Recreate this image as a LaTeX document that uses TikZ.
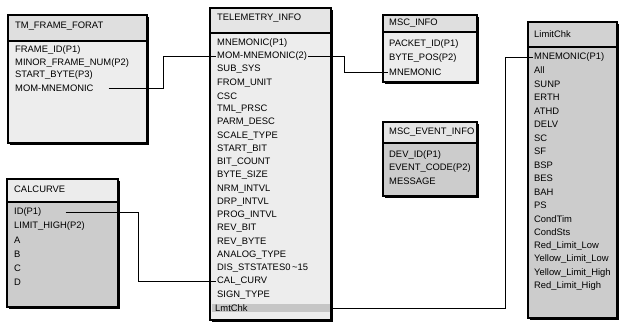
\documentclass[tikz,border=0pt]{standalone}
\usepackage{fontspec}
\setmainfont{Liberation Sans}
\usetikzlibrary{calc, positioning}

\begin{document}
\begin{tikzpicture}[x=1pt, y=-1pt,
  frame/.style={draw, line width=1.2pt},
  shade/.style={fill=black},
  hdr/.style={fill=gray!25},
  body/.style={fill=gray!14},
  darkbody/.style={fill=gray!40},
  title/.style={anchor=west, inner sep=1pt, font=\fontsize{9.4}{10}\selectfont},
  row/.style={anchor=west, inner sep=1pt, font=\fontsize{9.4}{10}\selectfont},
  link/.style={draw, line width=0.9pt}]
  \useasboundingbox (0,0) rectangle (622,327);
  % TM_FRAME_FORAT table
  \fill[shade] (10,17) rectangle (149,145);
  \fill[hdr] (8,15) rectangle (147,41);
  \fill[body] (8,41) rectangle (147,143);
  \draw[frame] (8,15) rectangle (147,143) (8,41) -- (147,41);
  \node[title] (tm) at (14,26) {TM\_FRAME\_FORAT};
  \foreach \lbl [count=\i] in {FRAME\_ID(P1), MINOR\_FRAME\_NUM(P2), START\_BYTE(P3), MOM-MNEMONIC}
    \node[row] (tm-\i) at (14,{50+12.7*(\i-1)}) {\lbl};
  % CALCURVE table
  \fill[shade] (9,181) rectangle (120,309);
  \fill[gray!15] (7,179) rectangle (118,202);
  \fill[darkbody] (7,202) rectangle (118,307);
  \draw[frame] (7,179) rectangle (118,307) (7,202) -- (118,202);
  \node[title] (cal) at (13,189) {CALCURVE};
  \foreach \lbl [count=\i] in {ID(P1), LIMIT\_HIGH(P2), A, B, C, D}
    \node[row] (cal-\i) at (13,{212+14*(\i-1)}) {\lbl};
  % TELEMETRY_INFO table
  \fill[shade] (212,10) rectangle (333,322);
  \fill[gray!20] (210,8) rectangle (331,33);
  \fill[body] (210,33) rectangle (331,320);
  \draw[frame] (210,8) rectangle (331,320) (210,33) -- (331,33);
  \node[title] (tel) at (216,18) {TELEMETRY\_INFO};
  \foreach \lbl [count=\i] in {MNEMONIC(P1), MOM-MNEMONIC(2), SUB\_SYS, FROM\_UNIT, CSC,
      TML\_PRSC, PARM\_DESC, SCALE\_TYPE, START\_BIT, BIT\_COUNT, BYTE\_SIZE, NRM\_INTVL,
      DRP\_INTVL, PROG\_INTVL, REV\_BIT, REV\_BYTE, ANALOG\_TYPE,
      DIS\_STSTATES0\,\textasciitilde15, CAL\_CURV, SIGN\_TYPE}
    \node[row] (tel-\i) at (216,{43+13.25*(\i-1)}) {\lbl};
  \node[row, fill=gray!45, text width=112pt, inner xsep=3pt] (tel-21) at (212,308) {LmtChk};
  % MSC_INFO table
  \fill[shade] (385,17) rectangle (479,84);
  \fill[hdr] (383,15) rectangle (477,32);
  \fill[body] (383,32) rectangle (477,82);
  \draw[frame] (383,15) rectangle (477,82) (383,32) -- (477,32);
  \node[title] (msc) at (388,23) {MSC\_INFO};
  \foreach \lbl [count=\i] in {PACKET\_ID(P1), BYTE\_POS(P2), MNEMONIC}
    \node[row] (msc-\i) at (388,{44+14*(\i-1)}) {\lbl};
  % MSC_EVENT_INFO table
  \fill[shade] (385,124) rectangle (479,198);
  \fill[gray!20] (383,122) rectangle (477,143);
  \fill[darkbody] (383,143) rectangle (477,196);
  \draw[frame] (383,122) rectangle (477,196) (383,143) -- (477,143);
  \node[title] (evt) at (388,132) {MSC\_EVENT\_INFO};
  \foreach \lbl [count=\i] in {DEV\_ID(P1), EVENT\_CODE(P2), MESSAGE}
    \node[row] (evt-\i) at (388,{155+13*(\i-1)}) {\lbl};
  % LimitChk table
  \fill[shade] (530,24) rectangle (619,320);
  \fill[gray!35] (528,22) rectangle (617,47);
  \fill[darkbody] (528,47) rectangle (617,318);
  \draw[frame] (528,22) rectangle (617,318) (528,47) -- (617,47);
  \node[title] (lim) at (533,34) {LimitChk};
  \foreach \lbl [count=\i] in {MNEMONIC(P1), All, SUNP, ERTH, ATHD, DELV, SC, SF, BSP, BES,
      BAH, PS, CondTim, CondSts, Red\_Limit\_Low, Yellow\_Limit\_Low, Yellow\_Limit\_High,
      Red\_Limit\_High}
    \node[row] (lim-\i) at (533,{57+13.5*(\i-1)}) {\lbl};
  % relations
  \draw[link] ([xshift=14pt]tm-4.east) -| ([xshift=-53pt]tel-2.west) -- (tel-2.west);
  \draw[link] (tel-2.east) -- ++(36,0) |- (msc-3.west);
  \draw[link] ([xshift=23pt]cal-1.east) -| ([xshift=-78pt]tel-19.west) -- (tel-19.west);
  \draw[link] (tel-21.east) -- ++(175,0) |- (lim-1.west);
\end{tikzpicture}
\end{document}
